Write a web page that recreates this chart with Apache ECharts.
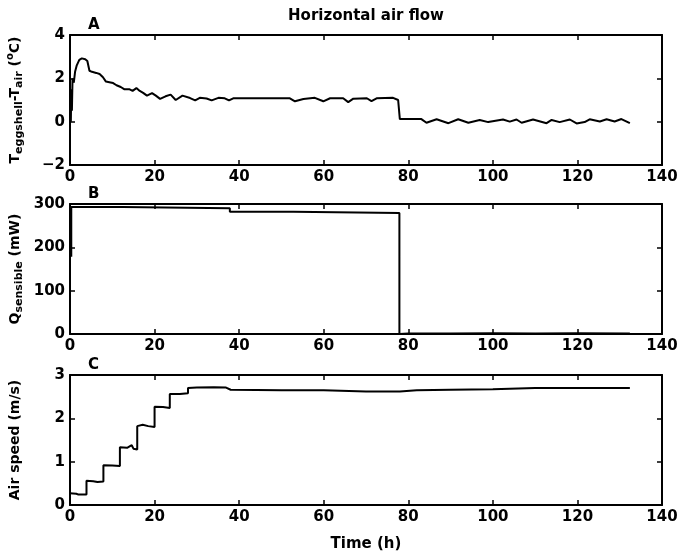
<!DOCTYPE html>
<html>
<head>
<meta charset="utf-8">
<script src="https://cdn.jsdelivr.net/npm/echarts@6/dist/echarts.min.js"></script>
<style>html,body{margin:0;padding:0;background:#fff}#c{width:678px;height:554px}</style>
</head>
<body>
<div id="c"></div>
<script>
// ---- data ----
const xTicks = [0, 20, 40, 60, 80, 100, 120, 140];

const timeA = [0.2, 0.3, 0.45, 0.6, 0.9, 1.2, 1.6, 2.2, 2.8, 3.6, 4.1, 4.6, 5.2, 6.2, 7.0, 7.8, 8.5, 9.3, 10.2, 11, 12, 12.8, 14.0, 14.8, 15.7, 16.5, 17.3, 18.2, 19.4, 20.3, 21.3, 22.6, 23.8, 25.0, 26.6, 28.4, 29.6, 30.7, 32.3, 33.5, 35.1, 36.6, 37.6, 38.6, 52, 53.2, 55.2, 57.9, 59.9, 61.5, 64.6, 65.8, 67, 70.2, 71.3, 72.5, 76.4, 77.6, 78.0, 83.1, 84.3, 86.7, 89.5, 91.8, 94.2, 96.9, 98.9, 102.4, 104, 105.6, 106.8, 109.5, 112.7, 113.9, 115.8, 118.2, 119.8, 121.7, 122.9, 125.3, 126.9, 128.8, 130.4, 132.4];
const tempDiff = [0, 1.5, 0.5, 2.0, 1.8, 2.3, 2.6, 2.85, 2.92, 2.88, 2.8, 2.35, 2.3, 2.25, 2.2, 2.05, 1.85, 1.82, 1.78, 1.68, 1.6, 1.5, 1.5, 1.42, 1.55, 1.42, 1.33, 1.2, 1.32, 1.2, 1.05, 1.17, 1.25, 1.0, 1.2, 1.09, 0.98, 1.1, 1.07, 0.98, 1.1, 1.08, 0.98, 1.08, 1.08, 0.94, 1.05, 1.1, 0.94, 1.08, 1.08, 0.9, 1.06, 1.08, 0.95, 1.08, 1.1, 1.0, 0.12, 0.12, -0.05, 0.11, -0.07, 0.11, -0.05, 0.08, -0.02, 0.1, 0.0, 0.1, -0.05, 0.1, -0.07, 0.08, -0.02, 0.1, -0.08, -0.02, 0.11, 0.01, 0.11, 0.01, 0.12, -0.07];

const timeB = [0.3, 0.3, 12.5, 12.5, 37.8, 37.8, 52.8, 52.8, 77.9, 77.9, 80, 90, 100, 110, 120, 132.4];
const qSensible = [178, 293, 293, 290, 290, 282, 282, 279, 279, 0, 1, 1, 2, 1, 2, 1];

const timeC = [0, 1.5, 2.0, 3.9, 3.9, 5.5, 6.5, 7.9, 7.9, 10, 11.8, 11.8, 13.5, 14.6, 15.0, 15.9, 15.9, 17.2, 18.5, 20.0, 20.0, 22, 23.6, 23.6, 26, 27.9, 27.9, 30, 34, 36.9, 38, 50, 60, 70, 78, 82, 90, 100, 110, 120, 132.4];
const airSpeed = [0.27, 0.26, 0.24, 0.24, 0.56, 0.55, 0.53, 0.54, 0.92, 0.91, 0.9, 1.33, 1.32, 1.38, 1.3, 1.28, 1.82, 1.85, 1.82, 1.8, 2.27, 2.26, 2.24, 2.56, 2.56, 2.58, 2.7, 2.71, 2.72, 2.71, 2.66, 2.65, 2.65, 2.62, 2.62, 2.65, 2.66, 2.67, 2.7, 2.7, 2.7];

const panels = [
  { letter: 'A', t: timeA, v: tempDiff, min: -2, max: 4, interval: 2, top: 35,
    name: '{m|T}{s|eggshell}{m|-T}{s|air}{m| (}{p|o}{m|C)}' },
  { letter: 'B', t: timeB, v: qSensible, min: 0, max: 300, interval: 100, top: 204,
    name: '{m|Q}{s|sensible}{m| (mW)}' },
  { letter: 'C', t: timeC, v: airSpeed, min: 0, max: 3, interval: 1, top: 375,
    name: '{m|Air speed (m/s)}' }
];

// ---- chart ----
const FONT = 'DejaVu Sans';
const chart = echarts.init(document.getElementById('c'), null, { renderer: 'canvas' });
const grids = [], xAxes = [], yAxes = [], series = [], graphics = [];
const lineSt = { color: '#000', width: 2 };
const tickSt = { show: true, inside: true, length: 5, lineStyle: { color: '#000', width: 1.5 } };

panels.forEach((p, i) => {
  grids.push({ left: 70, right: 16, top: p.top, height: 130, containLabel: false, outerBoundsMode: 'none' });
  const xb = {
    type: 'value', gridIndex: i, position: 'bottom', min: 0, max: 140, interval: 20,
    axisLine: { show: true, onZero: false, lineStyle: lineSt },
    axisTick: tickSt, splitLine: { show: false },
    axisLabel: { margin: 5, color: '#000', fontFamily: FONT, fontWeight: 'bold', fontSize: 15 }
  };
  if (i === 2) {
    xb.name = 'Time (h)';
    xb.nameLocation = 'middle';
    xb.nameGap = 32;
    xb.nameMoveOverlap = false;
    xb.nameTextStyle = { color: '#000', fontFamily: FONT, fontWeight: 'bold', fontSize: 15 };
  }
  xAxes.push(xb);
  xAxes.push({
    type: 'value', gridIndex: i, position: 'top', min: 0, max: 140, interval: 20,
    axisLine: { show: true, onZero: false, lineStyle: lineSt },
    axisTick: tickSt, splitLine: { show: false }, axisLabel: { show: false }
  });
  yAxes.push({
    type: 'value', gridIndex: i, position: 'left', min: p.min, max: p.max, interval: p.interval,
    axisLine: { show: true, onZero: false, lineStyle: lineSt },
    axisTick: tickSt, splitLine: { show: false },
    axisLabel: { margin: 5, color: '#000', fontFamily: FONT, fontWeight: 'bold', fontSize: 15,
                 formatter: v => String(v).replace('-', '\u2212') },
    name: p.name, nameLocation: 'middle', nameGap: 45, nameRotate: 90, nameMoveOverlap: false,
    nameTextStyle: {
      color: '#000', fontFamily: FONT, fontWeight: 'bold',
      rich: {
        m: { fontSize: 14, fontFamily: FONT, fontWeight: 'bold', color: '#000', lineHeight: 20, verticalAlign: 'middle' },
        s: { fontSize: 11, fontFamily: FONT, fontWeight: 'bold', color: '#000', lineHeight: 20, verticalAlign: 'bottom' },
        p: { fontSize: 10, fontFamily: FONT, fontWeight: 'bold', color: '#000', lineHeight: 20, verticalAlign: 'top' }
      }
    }
  });
  yAxes.push({
    type: 'value', gridIndex: i, position: 'right', min: p.min, max: p.max, interval: p.interval,
    axisLine: { show: true, onZero: false, lineStyle: lineSt },
    axisTick: tickSt, splitLine: { show: false }, axisLabel: { show: false }
  });
  series.push({
    type: 'line', xAxisIndex: 2 * i, yAxisIndex: 2 * i,
    data: p.t.map((t, k) => [t, p.v[k]]),
    showSymbol: false, symbol: 'none', smooth: false,
    lineStyle: { color: '#000', width: 2 }, silent: true, animation: false
  });
  graphics.push({
    type: 'text', x: 88, y: p.top - 17,
    style: { text: p.letter, fill: '#000', font: 'bold 15px "DejaVu Sans"' }
  });
});

graphics.push({
  type: 'text', x: 366, y: 16,
  style: { text: 'Horizontal air flow', fill: '#000', font: 'bold 15px "DejaVu Sans"',
           textAlign: 'center', textVerticalAlign: 'middle' }
});

chart.setOption({
  backgroundColor: '#fff',
  animation: false,
  grid: grids, xAxis: xAxes, yAxis: yAxes, series: series,
  graphic: graphics
});
</script>
</body>
</html>
